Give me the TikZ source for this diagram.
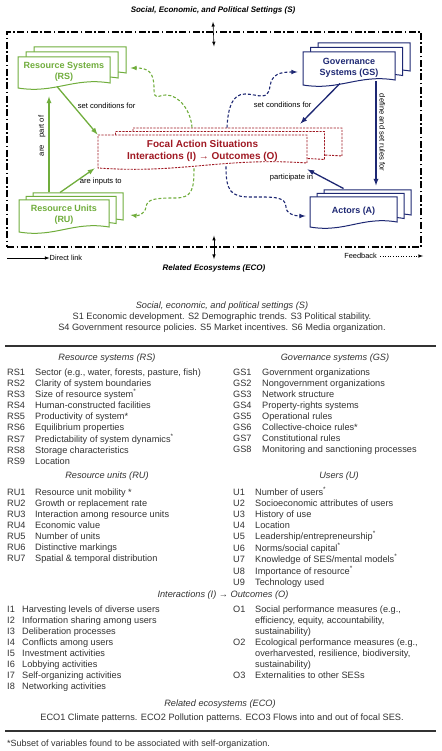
\documentclass[tikz,border=0pt]{standalone}
\usepackage{fontspec}
\setmainfont{Liberation Sans}
\usepackage{array}
\usetikzlibrary{positioning, arrows, calc}
\definecolor{rsgreen}{RGB}{112,173,60}
\definecolor{gsblue}{RGB}{30,40,115}
\definecolor{fasred}{RGB}{160,25,35}
\definecolor{listgray}{RGB}{50,50,50}
\tikzset{>=latex,
  docfont/.style={font=\fontsize{9}{11}\selectfont\bfseries, align=center, inner sep=0pt},
  rsdoc/.style={color=rsgreen, line width=1pt},
  gsdoc/.style={color=gsblue, line width=1pt},
  fasdoc/.style={color=fasred, line width=0.9pt, dash pattern=on 2.2pt off 1.2pt, font=\fontsize{10}{12}\selectfont\bfseries},
  rsarrow/.style={->, draw=rsgreen, line width=1.3pt},
  gsarrow/.style={->, draw=gsblue, line width=1.3pt},
  rsfb/.style={->, draw=rsgreen, line width=1.1pt, dash pattern=on 3pt off 2pt},
  gsfb/.style={->, draw=gsblue, line width=1.1pt, dash pattern=on 3pt off 2pt},
  elabel/.style={font=\fontsize{7.6}{8}\selectfont, inner sep=0pt, text=black},
  settitle/.style={font=\fontsize{8}{9}\selectfont\bfseries\itshape, inner sep=0pt},
  sesframe/.style={draw, line width=1.4pt, dash pattern=on 7pt off 2.5pt on 1.5pt off 2.5pt, inner sep=0pt},
  legendtext/.style={font=\fontsize{7.4}{8}\selectfont, inner sep=0pt},
  listhead/.style={font=\fontsize{9.2}{11}\selectfont\itshape, text=listgray, inner sep=0pt},
  listtext/.style={font=\fontsize{9.2}{11}\selectfont, text=listgray, inner sep=0pt},
  listrule/.style={line width=1.2pt, draw=black!80}}

% name, style, x, y, width, height, layer dx, layer dy, text
\newcommand{\docstack}[9]{%
  \foreach \k in {2,1,0}
    \draw[#2, fill=white, shift={(#3+\k*#7,#4-\k*#8)}]
      (-#5/2,-#6/2) -- (#5/2,-#6/2) -- (#5/2,#6/2-3)
      .. controls (0.1*#5,#6/2-9) and (-0.1*#5,#6/2+8) .. (-#5/2,#6/2+2) -- cycle;
  \node[docfont, #2, draw=none, minimum width=#5pt, minimum height=#6pt] (#1) at (#3,#4) {#9};}

\begin{document}
\begin{tikzpicture}[x=1pt, y=-1pt]
\useasboundingbox (0,0) rectangle (441,751);

% diagram
\node[settitle] (stitle) at (213,10) {Social, Economic, and Political Settings (S)};
\node[sesframe, minimum width=414pt, minimum height=215pt] (frame) at (214,139.5) {};
\node[settitle] (ecotitle) at (214,268) {Related Ecosystems (ECO)};
\draw[<->, line width=0.6pt] ([yshift=-8pt]stitle.south) -- ([yshift=-15pt]frame.north);
\draw[<->, line width=0.6pt] ([yshift=12pt]frame.south) -- ([yshift=5pt]ecotitle.north);

\docstack{rs}{rsdoc}{64}{71.5}{92}{29}{8}{5}{Resource Systems\\(RS)}
\docstack{gs}{gsdoc}{349}{67.5}{92}{31}{7.5}{4.5}{Governance\\Systems (GS)}
\docstack{ru}{rsdoc}{64}{215}{90}{30}{7}{3.5}{Resource Units\\(RU)}
\docstack{act}{gsdoc}{353.5}{211}{87}{28}{7}{3.5}{Actors (A)}
\docstack{fas}{fasdoc}{202.5}{150.5}{209}{31}{17.5}{3.5}{Focal Action Situations\\Interactions (I) → Outcomes (O)}

\draw[rsarrow] ([xshift=-7pt]rs.south) -- node[elabel, pos=0.4, right=4pt] (lrs) {set conditions for} (fas.north west);
\draw[rsarrow] ([shift={(-15,-7)}]ru.north) -- node[elabel, pos=0.59, rotate=90, anchor=south, inner sep=3pt] (lpart) {are\hspace{1em}part\hspace{0.3em}of} ([shift={(-15,10)}]rs.south);
\draw[rsarrow] ([shift={(-4,-7)}]ru.north) -- node[elabel, pos=0.44, right=4pt] (linp) {are inputs to} ([shift={(-3,2)}]fas.south west);
\draw[gsarrow] ([xshift=-9pt]gs.south) -- node[elabel, pos=0.53, left=7pt] (lgs) {set conditions for} ([shift={(-7,-11)}]fas.north east);
\draw[gsarrow] ([shift={(27,-2)}]gs.south) -- node[elabel, pos=0.49, rotate=-90, anchor=south, inner sep=3pt] (lrules) {define and set rules for} ([shift={(22.5,-11)}]act.north);
\draw[gsarrow] ([shift={(-10,-8)}]act.north) -- node[elabel, pos=0.55, left=10pt] (lact) {participate in} ([yshift=-3pt]fas.south east);

% feedback
\draw[rsfb] ([shift={(-10.5,-7)}]fas.north) .. controls (191,112) and (180,95) .. (166,95)
  .. controls (158,95) and (154,102) .. (154,88) .. controls (154,72) and (148,68) .. ([shift={(20,-3.5)}]rs.east);
\draw[gsfb] ([shift={(24.5,-7)}]fas.north) .. controls (228,108) and (232,94) .. (245,94)
  .. controls (258,94) and (268,102) .. (270,86) .. controls (272,74) and (280,72) .. ([shift={(-5,4.5)}]gs.west);
\draw[rsfb] ([shift={(-8.5,2)}]fas.south) .. controls (194,190) and (192,198) .. (175,198)
  .. controls (155,198) and (147,199) .. (146,207) .. controls (145,214) and (138,216) .. ([xshift=21pt]ru.east);
\draw[gsfb] ([xshift=23.5pt]fas.south) .. controls (226,190) and (230,197) .. (250,197)
  .. controls (272,197) and (286,196) .. (286,207) .. controls (286,214) and (295,216) .. ([shift={(-4,5)}]act.west);

% legend
\coordinate (dlstart) at (7,258);
\node[legendtext, anchor=west] (dltext) at (49.5,258) {Direct link};
\draw[->, line width=0.6pt] (dlstart) -- (dltext.west);
\node[legendtext, anchor=east] (fbtext) at (377,256) {Feedback};
\coordinate (fbend) at (423,256);
\draw[->, line width=0.6pt, dotted] ([xshift=3pt]fbtext.east) -- (fbend);

% variables
\node[listhead] (shead) at (222,306) {Social, economic, and political settings (S)};
\node[listtext, align=center] (stext) at (222,323) {S1 Economic development. S2 Demographic trends. S3 Political stability.\\S4 Government resource policies. S5 Market incentives. S6 Media organization.};
\draw[listrule] (5,346) -- (436,346);

\node[listhead] (rshead) at (107,358) {Resource systems (RS)};
\node[listtext, anchor=base west] (rslist) at (7,375) {\begin{tabular}[t]{@{}p{28pt}@{}l@{}}
RS1 & Sector (e.g., water, forests, pasture, fish)\\
RS2 & Clarity of system boundaries\\
RS3 & Size of resource system\textsuperscript{*}\\
RS4 & Human-constructed facilities\\
RS5 & Productivity of system*\\
RS6 & Equilibrium properties\\
RS7 & Predictability of system dynamics\textsuperscript{*}\\
RS8 & Storage characteristics\\
RS9 & Location
\end{tabular}};
\node[listhead] (gshead) at (335,358) {Governance systems (GS)};
\node[listtext, anchor=base west] (gslist) at (233,375) {\begin{tabular}[t]{@{}p{29pt}@{}l@{}}
GS1 & Government organizations\\
GS2 & Nongovernment organizations\\
GS3 & Network structure\\
GS4 & Property-rights systems\\
GS5 & Operational rules\\
GS6 & Collective-choice rules*\\
GS7 & Constitutional rules\\
GS8 & Monitoring and sanctioning processes
\end{tabular}};

\node[listhead] (ruhead) at (107,476) {Resource units (RU)};
\node[listtext, anchor=base west] (rulist) at (7,495) {\begin{tabular}[t]{@{}p{28pt}@{}l@{}}
RU1 & Resource unit mobility *\\
RU2 & Growth or replacement rate\\
RU3 & Interaction among resource units\\
RU4 & Economic value\\
RU5 & Number of units\\
RU6 & Distinctive markings\\
RU7 & Spatial \& temporal distribution
\end{tabular}};
\node[listhead] (uhead) at (339,476) {Users (U)};
\node[listtext, anchor=base west] (ulist) at (233,495) {\begin{tabular}[t]{@{}p{22pt}@{}l@{}}
U1 & Number of users\textsuperscript{*}\\
U2 & Socioeconomic attributes of users\\
U3 & History of use\\
U4 & Location\\
U5 & Leadership/entrepreneurship\textsuperscript{*}\\
U6 & Norms/social capital\textsuperscript{*}\\
U7 & Knowledge of SES/mental models\textsuperscript{*}\\
U8 & Importance of resource\textsuperscript{*}\\
U9 & Technology used
\end{tabular}};

\node[listhead] (iohead) at (223,595) {Interactions (I) → Outcomes (O)};
\node[listtext, anchor=base west] (ilist) at (7,612) {\begin{tabular}[t]{@{}p{15pt}@{}l@{}}
I1 & Harvesting levels of diverse users\\
I2 & Information sharing among users\\
I3 & Deliberation processes\\
I4 & Conflicts among users\\
I5 & Investment activities\\
I6 & Lobbying activities\\
I7 & Self-organizing activities\\
I8 & Networking activities
\end{tabular}};
\node[listtext, anchor=base west] (olist) at (233,612) {\begin{tabular}[t]{@{}p{22pt}@{}l@{}}
O1 & Social performance measures (e.g.,\\
   & efficiency, equity, accountability,\\
   & sustainability)\\
O2 & Ecological performance measures (e.g.,\\
   & overharvested, resilience, biodiversity,\\
   & sustainability)\\
O3 & Externalities to other SESs
\end{tabular}};

\node[listhead] (ecohead) at (220,704) {Related ecosystems (ECO)};
\node[listtext] (ecotext) at (222,718) {ECO1 Climate patterns. ECO2 Pollution patterns. ECO3 Flows into and out of focal SES.};
\draw[listrule] (5,731) -- (436,731);
\node[listtext, font=\fontsize{9}{10}\selectfont, anchor=west] (note) at (7,744) {*Subset of variables found to be associated with self-organization.};
\end{tikzpicture}
\end{document}
